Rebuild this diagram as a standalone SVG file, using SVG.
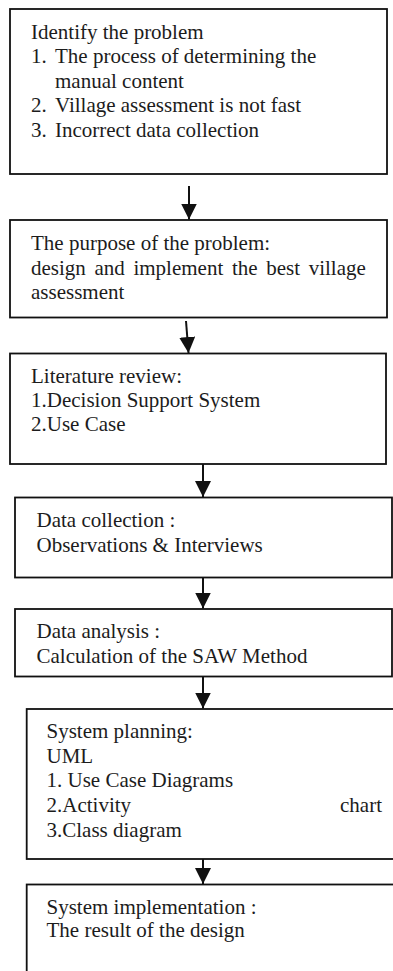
<svg xmlns="http://www.w3.org/2000/svg" width="393" height="971" viewBox="0 0 393 971">
<style>
.box{fill:#fff;stroke:#111;stroke-width:1.8}
.t{font-family:"Liberation Serif","Times New Roman",serif;font-size:21px;fill:#1c1c1c}
.c{stroke:#111;stroke-width:2;fill:none}
</style>
<defs>
<marker id="ah" viewBox="0 0 16 16" refX="16" refY="8" markerWidth="16" markerHeight="16" markerUnits="userSpaceOnUse" orient="auto">
<path d="M0,0 L16,8 L0,16 z" fill="#111"/>
</marker>
</defs>
<rect width="393" height="971" fill="#fff"/>
<g id="n1">
<rect class="box" x="10" y="9" width="377" height="165"/>
<text class="t" x="31" y="38.5">Identify the problem</text>
<text class="t" x="31" y="63">1.</text><text class="t" x="55" y="63">The process of determining the</text>
<text class="t" x="55" y="87.5">manual content</text>
<text class="t" x="31" y="112">2.</text><text class="t" x="55" y="112">Village assessment is not fast</text>
<text class="t" x="31" y="136.5">3.</text><text class="t" x="55" y="136.5">Incorrect data collection</text>
</g>
<g id="n2">
<rect class="box" x="10" y="220" width="377" height="97.5"/>
<text class="t" x="31" y="250">The purpose of the problem:</text>
<text class="t" x="31" y="274.5" word-spacing="3.4">design and implement the best village</text>
<text class="t" x="31" y="298.5">assessment</text>
</g>
<g id="n3">
<rect class="box" x="10" y="353.5" width="376" height="110.5"/>
<text class="t" x="31" y="382.7">Literature review:</text>
<text class="t" x="31" y="406.5">1.Decision Support System</text>
<text class="t" x="31" y="431">2.Use Case</text>
</g>
<g id="n4">
<rect class="box" x="15" y="497.5" width="377" height="80"/>
<text class="t" x="36.5" y="526.7">Data collection :</text>
<text class="t" x="36.5" y="551.7">Observations &amp; Interviews</text>
</g>
<g id="n5">
<rect class="box" x="15" y="609" width="377" height="67.5"/>
<text class="t" x="36.5" y="638.3">Data analysis :</text>
<text class="t" x="36.5" y="663.3">Calculation of the SAW Method</text>
</g>
<g id="n6">
<rect class="box" x="26.7" y="709" width="380" height="150"/>
<text class="t" x="46.5" y="738.3">System planning:</text>
<text class="t" x="46.5" y="763.3">UML</text>
<text class="t" x="46.5" y="786.7">1. Use Case Diagrams</text>
<text class="t" x="46.5" y="811.7">2.Activity</text><text class="t" x="340" y="811.7">chart</text>
<text class="t" x="46.5" y="836.7">3.Class diagram</text>
</g>
<g id="n7">
<rect class="box" x="26.7" y="884.5" width="380" height="100"/>
<text class="t" x="46.5" y="914">System implementation :</text>
<text class="t" x="46.5" y="937">The result of the design</text>
</g>
<g id="connectors">
<line class="c" x1="189" y1="186" x2="189" y2="219.5" marker-end="url(#ah)"/>
<line class="c" x1="186" y1="321" x2="188.5" y2="353" marker-end="url(#ah)"/>
<line class="c" x1="203" y1="464" x2="203" y2="497" marker-end="url(#ah)"/>
<line class="c" x1="203" y1="577.5" x2="203" y2="608.5" marker-end="url(#ah)"/>
<line class="c" x1="203" y1="676.5" x2="203" y2="708.5" marker-end="url(#ah)"/>
<line class="c" x1="203" y1="859" x2="203" y2="884" marker-end="url(#ah)"/>
</g>
</svg>
